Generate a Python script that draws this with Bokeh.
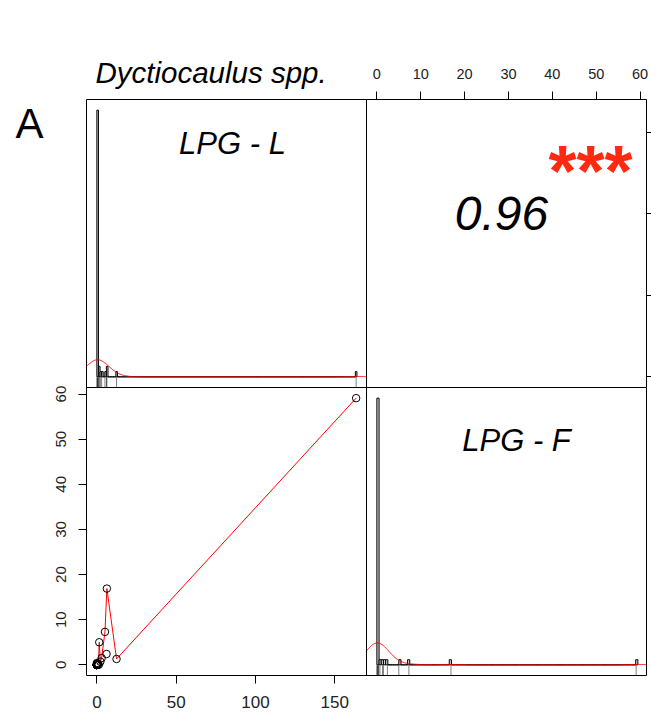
import numpy as np
from bokeh.plotting import figure
from bokeh.models import Range1d, LinearAxis, FixedTicker, Label
from bokeh.embed import file_html
from bokeh.resources import INLINE

# ---------------- data ----------------
TITLE = "Dyctiocaulus spp."
PANEL_TAG = "A"
VAR_NAMES = ["LPG - L", "LPG - F"]
CORR_TEXT = "0.96"
SIGNIF = "***"

# paired observations (LPG - L, LPG - F); many animals with zero counts
LPG_L = [0.0] * 46 + [0.0, 0.0, 0.3, 0.5, 0.8, 1.2, 1.5, 2.2, 3.0, 5.1, 6.1, 6.3, 12.4, 163.5]
LPG_F = [0.0] * 46 + [0.4, 0.2, 0.0, 0.3, 0.1, 0.0, 5.0, 0.7, 1.5, 7.3, 2.4, 16.9, 1.3, 59.1]

# red smoother through the scatter (vertices)
SMOOTH_X = [0.0, 0.5, 1.0, 1.5, 2.2, 3.0, 5.1, 6.3, 12.4, 163.5]
SMOOTH_Y = [0.1, 0.2, 0.4, 5.0, 0.7, 1.5, 7.3, 16.9, 1.3, 59.1]

TICKS_L = [0, 50, 100, 150]
TICKS_F = [0, 10, 20, 30, 40, 50, 60]

BIN_L = 1.0      # histogram bin widths
BIN_F = 0.5
BW_L = 7.0       # kernel density bandwidths
BW_F = 2.6

FONT = "Liberation Sans"

# ---------------- layout (page pixels) ----------------
W, H = 651, 716
FX0, FX1 = 86, 646
FY0, FY1 = 99, 675          # top, bottom of the panel block
MX = (FX0 + FX1) / 2
MY = (FY0 + FY1) / 2
PAGE_X = (0, W)
PAGE_Y = (H, 0)             # flipped: page y grows downward

L = np.array(LPG_L)
F = np.array(LPG_F)


def padded(lo, hi, f=0.04):
    d = (hi - lo) * f
    return lo - d, hi + d


def place(lo, hi, p0, p1, page):
    """Range in which data lo..hi lands on page coordinates p0..p1."""
    ps, pe = page
    ta = (p0 - ps) / (pe - ps)
    tb = (p1 - ps) / (pe - ps)
    span = (hi - lo) / (tb - ta)
    start = lo - ta * span
    return Range1d(start=start, end=start + span)


def hist(v, w):
    edges = np.arange(0, v.max() + w, w)
    dens, edges = np.histogram(v, bins=edges, density=True)
    return edges, dens


def kde(v, bw, grid):
    z = (grid[:, None] - v[None, :]) / bw
    return np.exp(-0.5 * z ** 2).sum(axis=1) / (len(v) * bw * np.sqrt(2 * np.pi))


lx0, lx1 = padded(L.min(), L.max())
fx0, fx1 = padded(F.min(), F.max())

eL, hL = hist(L, BIN_L)
eF, hF = hist(F, BIN_F)
dl0, dl1 = padded(0, hL.max())
df0, df1 = padded(0, hF.max())

p = figure(
    width=W, height=H, min_border=0,
    x_range=Range1d(*PAGE_X), y_range=Range1d(*PAGE_Y),
    x_axis_location=None, y_axis_location=None,
    toolbar_location=None, output_backend="svg",
    background_fill_color="white", border_fill_color="white",
)
p.grid.visible = False
p.outline_line_color = None

p.extra_x_ranges = {
    "xL": place(lx0, lx1, FX0, MX, PAGE_X),
    "xF": place(fx0, fx1, MX, FX1, PAGE_X),
}
p.extra_y_ranges = {
    "yL": place(lx0, lx1, MY, FY0, PAGE_Y),
    "yF": place(fx0, fx1, FY1, MY, PAGE_Y),
    "dL": place(dl0, dl1, MY, FY0, PAGE_Y),
    "dF": place(df0, df1, FY1, MY, PAGE_Y),
}

# ---------------- diagonal panels: histogram, density, rug -----------------
RUG_FRAC = 0.035
for v, e, h, bw, (x0, x1), (y0, y1), xr, yr in [
    (L, eL, hL, BW_L, (lx0, lx1), (dl0, dl1), "xL", "dL"),
    (F, eF, hF, BW_F, (fx0, fx1), (df0, df1), "xF", "dF"),
]:
    p.quad(left=e[:-1], right=e[1:], bottom=0, top=h,
           fill_color="#d3d3d3", line_color="black", line_width=1,
           x_range_name=xr, y_range_name=yr)
    g = np.linspace(x0, x1, 600)
    p.line(g, kde(v, bw, g), line_color="red", line_width=1,
           x_range_name=xr, y_range_name=yr)
    uv = np.unique(v)
    p.segment(x0=uv, x1=uv, y0=y0, y1=y0 + RUG_FRAC * (y1 - y0),
              line_color="black", line_alpha=0.5, line_width=1,
              x_range_name=xr, y_range_name=yr)

# ---------------- lower panel: scatter + smoother ------------------------
p.line(SMOOTH_X, SMOOTH_Y, line_color="red", line_width=1,
       x_range_name="xL", y_range_name="yF")
p.scatter(L, F, marker="circle", size=7.5, fill_color=None,
          line_color="black", line_width=1,
          x_range_name="xL", y_range_name="yF")

# panel boxes
p.quad(left=[FX0, MX, FX0, MX], right=[MX, FX1, MX, FX1],
       top=[FY0, FY0, MY, MY], bottom=[MY, MY, FY1, FY1],
       fill_color=None, line_color="black", line_width=1)


# ---------------- axes on the panel edges ---------------------------------
def style_axis(ax, standoff, size):
    ax.minor_tick_line_color = None
    ax.major_tick_in = 0
    ax.major_tick_out = 8
    ax.major_label_standoff = standoff
    ax.major_label_text_font = FONT
    ax.major_label_text_font_size = f"{size}px"
    ax.major_label_text_color = "#222222"
    ax.axis_line_color = "black"
    ax.major_tick_line_color = "black"


top = LinearAxis(x_range_name="xF", bounds=(TICKS_F[0], TICKS_F[-1]),
                 ticker=FixedTicker(ticks=TICKS_F), fixed_location=FY0)
style_axis(top, 13, 14.5)
p.add_layout(top, "above")

bottom = LinearAxis(x_range_name="xL", bounds=(TICKS_L[0], TICKS_L[-1]),
                    ticker=FixedTicker(ticks=TICKS_L), fixed_location=FY1)
style_axis(bottom, 12, 17)
p.add_layout(bottom, "below")

left = LinearAxis(y_range_name="yF", bounds=(TICKS_F[0], TICKS_F[-1]),
                  ticker=FixedTicker(ticks=TICKS_F), fixed_location=FX0,
                  major_label_orientation="vertical")
style_axis(left, 12, 15)
p.add_layout(left, "left")

right = LinearAxis(y_range_name="yL", bounds=(TICKS_L[0], TICKS_L[-1]),
                   ticker=FixedTicker(ticks=TICKS_L), fixed_location=FX1)
style_axis(right, 0, 1)
right.major_tick_out = 5
right.major_label_text_font_size = "0px"
right.major_label_overrides = {t: "" for t in TICKS_L}
p.add_layout(right, "right")

# ---------------- texts ---------------------------------------------------
def label(txt, x, y, size, align="center", style="italic", color="black"):
    p.add_layout(Label(x=x, y=y, text=txt, text_font=FONT,
                       text_font_size=f"{size}px",
                       text_font_style=style, text_color=color,
                       text_align=align, text_baseline="alphabetic"))


label(TITLE, 95, 72, 29.5, align="left")
label(PANEL_TAG, 15, 123, 42, align="left", style="normal")
label(VAR_NAMES[0], 232, 143, 31)
label(VAR_NAMES[1], 516, 440, 31)
label(CORR_TEXT, 501, 213, 48)
label(SIGNIF, 590, 170, 72, style="bold", color="#ff2a10")

open("out.html", "w").write(file_html(p, INLINE))
